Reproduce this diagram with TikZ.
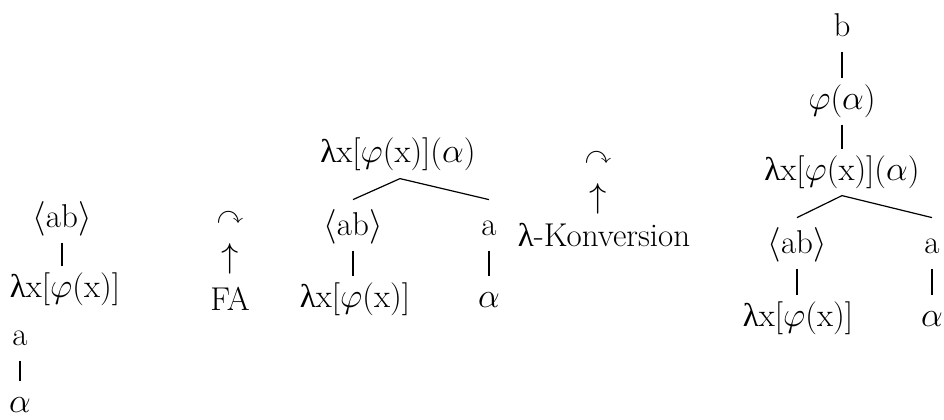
\documentclass[tikz,border=0pt]{standalone}
\usepackage{fontspec}
\usepackage{amssymb}
\usetikzlibrary{calc}
\newfontfamily\grkfont{Liberation Serif}
\newcommand{\lam}{{\grkfont λ}}
\newcommand{\lx}{\lam x[$\varphi$(x)]}
\newcommand{\abt}{$\langle$ab$\rangle$}
\begin{document}
\begin{tikzpicture}[x=0.5pt,y=-0.5pt,
  font=\fontsize{16.5}{19}\selectfont,
  lbl/.style={inner sep=0pt, anchor=base, text height=11pt, text depth=3.6pt},
  sym/.style={inner sep=0pt},
  curv/.style={inner sep=0pt, scale=0.8},
  bar/.style={line width=0.6pt, shorten <=4pt, shorten >=4.5pt},
  branch/.style={line width=0.6pt}]
\useasboundingbox (0,0) rectangle (944,419);

% left column
\node[lbl] (L1) at (62,227) {\abt};
\node[lbl] (L2) at (65,297) {\lx};
\node[lbl] (L3) at (20,345) {a};
\node[lbl] (L4) at (20,412) {$\alpha$};
\draw[bar] (L1.south) -- (L1.south |- L2.north);
\draw[bar] (L3.south) -- (L3.south |- L4.north);

% FA
\node[curv] (C1) at (230,218) {$\curvearrowright$};
\node[sym] (U1) at (230,259) {$\uparrow$};
\node[lbl] (FA) at (230,310) {FA};

% middle tree
\node[lbl] (M0) at (398,162) {\lx($\alpha$)};
\node[lbl] (M1) at (353,235) {\abt};
\node[lbl] (M2) at (489,235) {a};
\node[lbl] (M3) at (355,307) {\lx};
\node[lbl] (M4) at (489,307) {$\alpha$};
\coordinate (MA) at ($(M0.south)+(2,9)$);
\draw[branch] ($(M1.north)+(0,-13)$) -- (MA) -- ($(M2.north)+(0,-13)$);
\draw[bar] (M1.south) -- (M1.south |- M3.north);
\draw[bar] (M2.south) -- (M2.south |- M4.north);

% lambda conversion
\node[curv] (C2) at (598,158) {$\curvearrowright$};
\node[sym] (U2) at (598,199) {$\uparrow$};
\node[lbl] (K) at (604,246) {\lam-Konversion};

% right tree
\node[lbl] (R0) at (842,36) {b};
\node[lbl] (R1) at (842,109) {$\varphi$($\alpha$)};
\node[lbl] (R2) at (842,180) {\lx($\alpha$)};
\node[lbl] (R3) at (797,253) {\abt};
\node[lbl] (R4) at (932,253) {a};
\node[lbl] (R5) at (798,326) {\lx};
\node[lbl] (R6) at (932,326) {$\alpha$};
\draw[bar] (R0.south) -- (R1.north);
\draw[bar] (R1.south) -- (R2.north);
\coordinate (RA) at ($(R2.south)+(0,8)$);
\draw[branch] ($(R3.north)+(0,-13)$) -- (RA) -- ($(R4.north)+(0,-13)$);
\draw[bar] (R3.south) -- (R3.south |- R5.north);
\draw[bar] (R4.south) -- (R4.south |- R6.north);
\end{tikzpicture}
\end{document}
